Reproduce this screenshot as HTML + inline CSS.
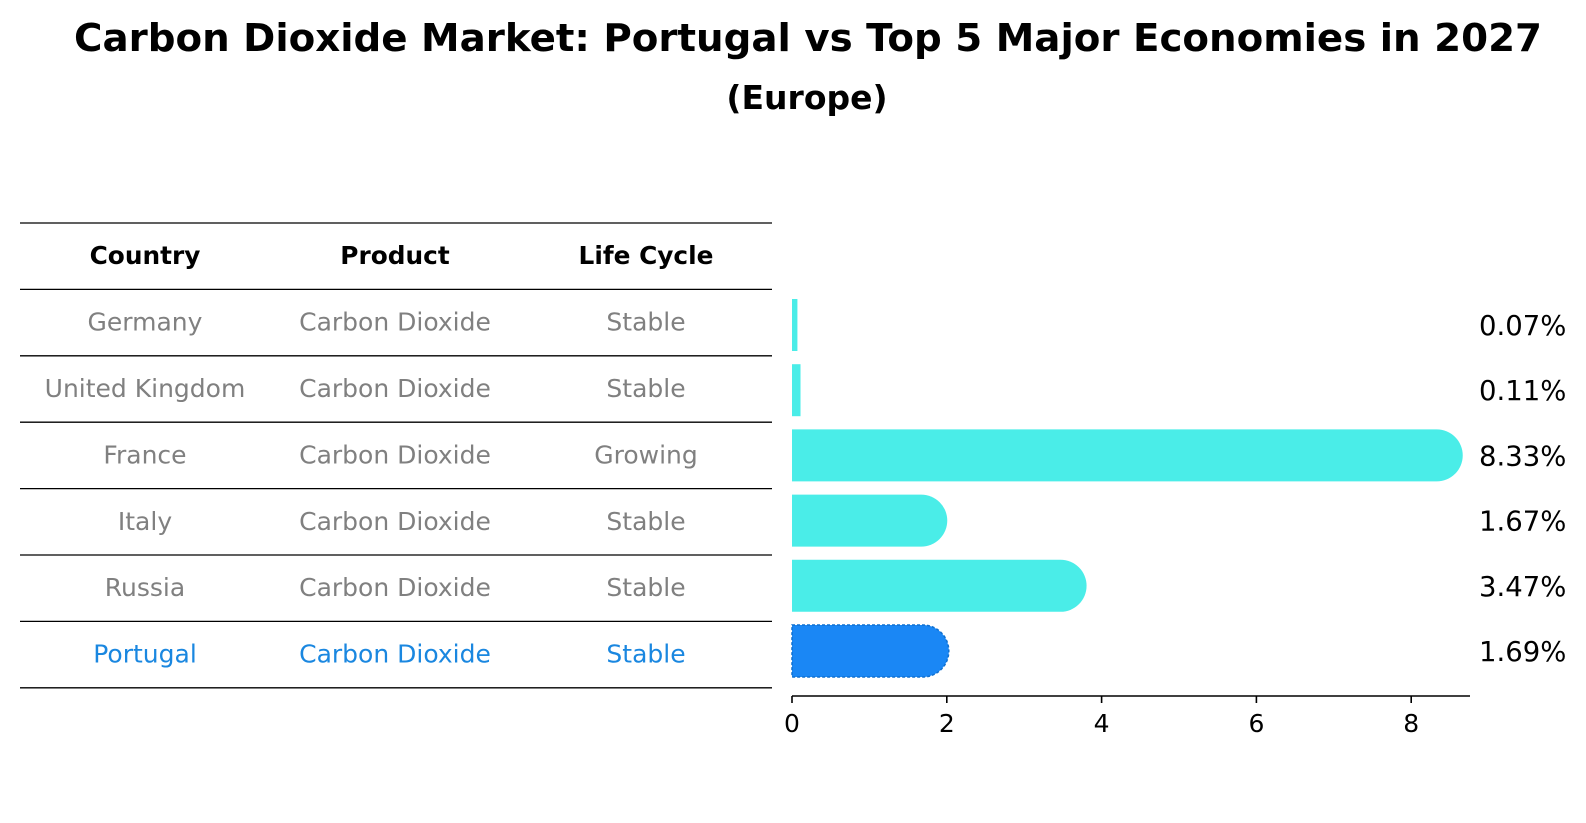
<!DOCTYPE html>
<html><head><meta charset="utf-8"><style>
html,body{margin:0;padding:0;background:#fff;}
svg{display:block;font-family:"DejaVu Sans","Liberation Sans",sans-serif;}
</style></head><body>
<svg id="chart" width="1586" height="823" viewBox="0 0 1586 823">
<text x="808" y="51" text-anchor="middle" font-size="38" font-weight="bold" textLength="1468" lengthAdjust="spacingAndGlyphs">Carbon Dioxide Market: Portugal vs Top 5 Major Economies in 2027</text>
<text x="807" y="109" text-anchor="middle" font-size="33" font-weight="bold">(Europe)</text>
<g id="table"></g>
<g id="bars"></g>
</svg>
<script>
const countries = ["Germany","United Kingdom","France","Italy","Russia","Portugal"];
const products = ["Carbon Dioxide","Carbon Dioxide","Carbon Dioxide","Carbon Dioxide","Carbon Dioxide","Carbon Dioxide"];
const lifeCycles = ["Stable","Stable","Growing","Stable","Stable","Stable"];
const shares = [0.07,0.11,8.33,1.67,3.47,1.69];
const valueLabels = ["0.07%","0.11%","8.33%","1.67%","3.47%","1.69%"];
const xTicks = [0,2,4,6,8];
const highlight = "Portugal";

const NS="http://www.w3.org/2000/svg";
function mk(tag,attrs,parent){const e=document.createElementNS(NS,tag);for(const k in attrs)e.setAttribute(k,attrs[k]);parent.appendChild(e);return e;}

const tbl=document.getElementById('table');
const rowTop=223, rowH=66.4, tx0=20, tx1=772;
const colX=[145,395,646];
const headers=["Country","Product","Life Cycle"];
for(let i=0;i<=countries.length+1;i++){
  const y=rowTop+i*rowH;
  const l=mk('line',{x1:tx0,x2:tx1,y1:y,y2:y,stroke:'#000','stroke-width':1.3},tbl);
  
  
}
headers.forEach((h,j)=>{
  const t=mk('text',{x:colX[j],y:rowTop+rowH/2+8,'text-anchor':'middle','font-size':24.8,'font-weight':'bold',fill:'#000'},tbl);
  t.textContent=h;
  
  
});
countries.forEach((c,i)=>{
  const vals=[c,products[i],lifeCycles[i]];
  const col=c===highlight?'#1a87e0':'#808080';
  vals.forEach((v,j)=>{
    const t=mk('text',{x:colX[j],y:rowTop+(i+1.5)*rowH+8,'text-anchor':'middle','font-size':25,fill:col},tbl);
    t.textContent=v;
    
    
  });
});

const g=document.getElementById('bars');
const x0=792, scale=77.4, axisY=696, barH=52;
const xs=v=>x0+v*scale;
const yc=i=>325+i*65.2;
shares.forEach((v,i)=>{
  const w=v*scale, r=barH/2, top=yc(i)-r;
  const isH=countries[i]===highlight;
  let el;
  if(w<r){
    el=mk('rect',{x:x0,y:top,width:Math.max(w,1),height:barH},g);
  } else {
    const ex=xs(v);
    el=mk('path',{d:`M${x0},${top} H${ex} A${r},${r} 0 0 1 ${ex},${top+barH} H${x0} Z`},g);
  }
  el.setAttribute('fill',isH?'#1a87f5':'#4aede8');
  if(isH){el.setAttribute('stroke','#1070d0');el.setAttribute('stroke-width','1.5');el.setAttribute('stroke-dasharray','3,2');}
  
  
  const t=mk('text',{x:1479,y:yc(i)+10,'font-size':27.5,fill:'#000'},g);
  t.textContent=valueLabels[i];
  
  
});
const ax=mk('line',{x1:x0,x2:1470,y1:axisY,y2:axisY,stroke:'#000','stroke-width':1.6},g);


xTicks.forEach(v=>{
  const tk=mk('line',{x1:xs(v),x2:xs(v),y1:axisY,y2:axisY+7,stroke:'#000','stroke-width':1.6},g);
  
  
  const t=mk('text',{x:xs(v),y:axisY+36,'text-anchor':'middle','font-size':25,fill:'#000'},g);
  t.textContent=String(v);
  
  
});
</script>
</body></html>
